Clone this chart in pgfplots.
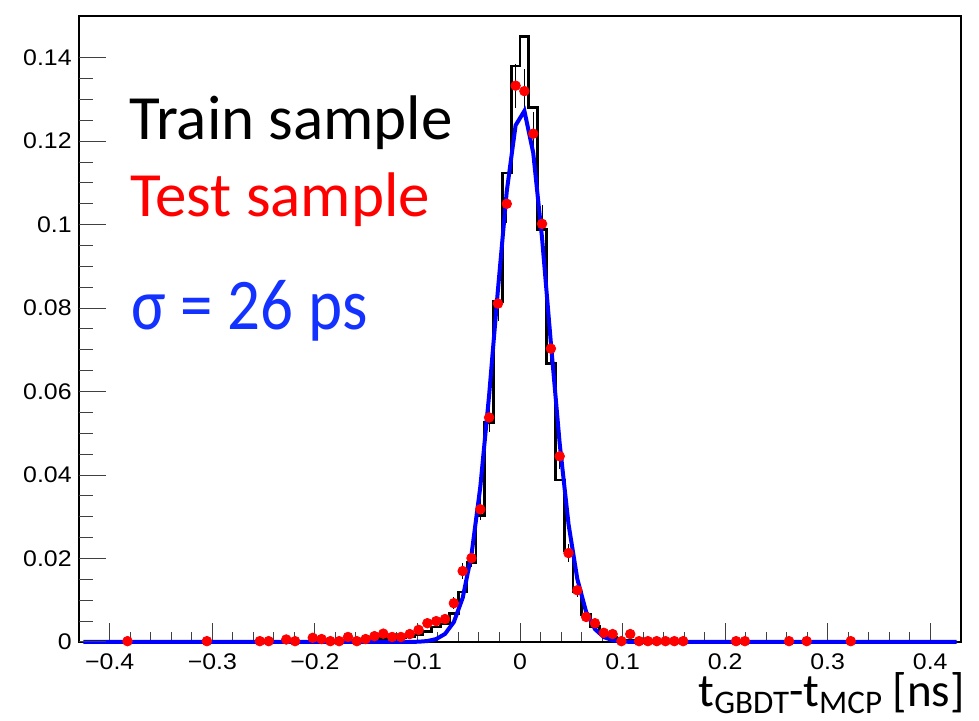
\documentclass[border=0pt]{standalone}
\usepackage{pgfplots}
\pgfplotsset{compat=1.18}
\usepackage{fontspec}
\usepackage{graphicx}
\setmainfont{Liberation Sans}
\newfontfamily\calfont{Carlito}
\definecolor{sigblue}{RGB}{20,50,255}
\newcommand\sx[1]{\scalebox{1.1}[1]{#1}}
\begin{document}
\begin{tikzpicture}
\begin{axis}[
  at={(0,0)}, anchor=south west,
  scale only axis, width=441pt, height=313pt,
  xmin=-0.43, xmax=0.43, ymin=0, ymax=0.15,
  clip=false,
  axis line style={black, line width=0.6pt},
  xtick={-0.4,-0.3,-0.2,-0.1,0,0.1,0.2,0.3,0.4},
  xticklabels={\sx{−0.4},\sx{−0.3},\sx{−0.2},\sx{−0.1},\sx{0},\sx{0.1},\sx{0.2},\sx{0.3},\sx{0.4}},
  minor x tick num=4,
  ytick=\empty,
  xtick pos=left,
  tick align=inside,
  major tick length=9.5pt, minor tick length=5pt,
  tick style={black!75, line width=0.5pt},
  xticklabel style={font=\fontsize{11.3}{13}\selectfont, inner sep=0pt, anchor=north, yshift=-5.5pt},
]
\addplot[const plot, black, line width=1.4pt] coordinates {
(-0.43,0) (-0.2064,0.0001) (-0.1978,0.0002) (-0.1892,0.0002) (-0.1806,0.0003) (-0.172,0.0003) (-0.1634,0.0004) (-0.1548,0.0005) (-0.1462,0.0006) (-0.1376,0.0008) (-0.129,0.0009) (-0.1204,0.001) (-0.1118,0.0013) (-0.1032,0.0018) (-0.0946,0.0026) (-0.086,0.0036) (-0.0774,0.0043) (-0.0688,0.0069) (-0.0602,0.012) (-0.0516,0.0191) (-0.043,0.0304) (-0.0344,0.0526) (-0.0258,0.0816) (-0.0172,0.1124) (-0.0086,0.138) (0,0.145) (0.0086,0.128) (0.0172,0.0988) (0.0258,0.0667) (0.0344,0.0388) (0.043,0.0218) (0.0516,0.012) (0.0602,0.0065) (0.0688,0.0037) (0.0774,0.0021) (0.086,0.001) (0.0946,0.0005) (0.1032,0.0003) (0.1118,0.0002) (0.1204,0.0001) (0.129,0) (0.43,0)
};
\addplot[only marks, mark=*, mark size=2.4pt, red,
  error bars/.cd, y dir=both, y explicit, error mark=none,
  error bar style={black, line width=0.4pt}] coordinates {
(-0.3827,0.0002) +- (0,0.0002)
(-0.3053,0.0002) +- (0,0.0002)
(-0.2537,0.0002) +- (0,0.0002)
(-0.2451,0.0002) +- (0,0.0002)
(-0.2279,0.0006) +- (0,0.00036)
(-0.2193,0.0002) +- (0,0.0002)
(-0.2021,0.001) +- (0,0.00046)
(-0.1935,0.0007) +- (0,0.00038)
(-0.1849,0.0002) +- (0,0.0002)
(-0.1763,0.0002) +- (0,0.0002)
(-0.1677,0.0012) +- (0,0.0005)
(-0.1591,0.0002) +- (0,0.0002)
(-0.1505,0.0007) +- (0,0.00038)
(-0.1419,0.0014) +- (0,0.00054)
(-0.1333,0.002) +- (0,0.00065)
(-0.1247,0.0012) +- (0,0.0005)
(-0.1161,0.0012) +- (0,0.0005)
(-0.1075,0.0019) +- (0,0.00063)
(-0.0989,0.0029) +- (0,0.0008)
(-0.0903,0.0045) +- (0,0.001)
(-0.0817,0.005) +- (0,0.001)
(-0.0731,0.0055) +- (0,0.0011)
(-0.0645,0.0093) +- (0,0.0014)
(-0.0559,0.017) +- (0,0.0019)
(-0.0473,0.0201) +- (0,0.0021)
(-0.0387,0.0318) +- (0,0.0026)
(-0.0301,0.0538) +- (0,0.0034)
(-0.0215,0.0811) +- (0,0.0041)
(-0.0129,0.105) +- (0,0.0047)
(-0.0043,0.1333) +- (0,0.0053)
(0.0043,0.132) +- (0,0.0053)
(0.0129,0.1218) +- (0,0.0051)
(0.0215,0.1002) +- (0,0.0046)
(0.0301,0.0703) +- (0,0.0039)
(0.0387,0.0445) +- (0,0.0031)
(0.0473,0.0213) +- (0,0.0021)
(0.0559,0.0124) +- (0,0.0016)
(0.0645,0.006) +- (0,0.0011)
(0.0731,0.0045) +- (0,0.001)
(0.0817,0.0022) +- (0,0.0007)
(0.0903,0.0019) +- (0,0.00063)
(0.0989,0.0002) +- (0,0.0002)
(0.1075,0.0019) +- (0,0.00063)
(0.1161,0.0002) +- (0,0.0002)
(0.1247,0.0002) +- (0,0.0002)
(0.1333,0.0002) +- (0,0.0002)
(0.1419,0.0002) +- (0,0.0002)
(0.1505,0.0002) +- (0,0.0002)
(0.1591,0.0002) +- (0,0.0002)
(0.2107,0.0002) +- (0,0.0002)
(0.2193,0.0002) +- (0,0.0002)
(0.2623,0.0002) +- (0,0.0002)
(0.2795,0.0002) +- (0,0.0002)
(0.3225,0.0002) +- (0,0.0002)
};
\addplot[blue, line width=2pt] coordinates {
(-0.4257,0) (-0.1161,0) (-0.1075,0.00003) (-0.0989,0.000067) (-0.0903,0.00023) (-0.0817,0.000705) (-0.0731,0.00194) (-0.0645,0.00478) (-0.0559,0.01056) (-0.0473,0.02093) (-0.0387,0.03717) (-0.0301,0.05917) (-0.0215,0.08443) (-0.0129,0.1080) (-0.0043,0.1238) (0.0043,0.12726) (0.0129,0.1172) (0.0215,0.0968) (0.0301,0.07166) (0.0387,0.04754) (0.0473,0.02827) (0.0559,0.01507) (0.0645,0.0072) (0.0731,0.00308) (0.0817,0.001185) (0.0903,0.000408) (0.0989,0.000126) (0.1075,0.00003) (0.1161,0) (0.4257,0)
};
\end{axis}
\begin{axis}[
  at={(0,0)}, anchor=south west,
  scale only axis, width=441pt, height=313pt,
  xmin=-0.43, xmax=0.43, ymin=0, ymax=0.15,
  axis line style={draw=none},
  xtick=\empty,
  ytick={0,0.02,0.04,0.06,0.08,0.1,0.12,0.14},
  yticklabels={\sx{0},\sx{0.02},\sx{0.04},\sx{0.06},\sx{0.08},\sx{0.1},\sx{0.12},\sx{0.14}},
  minor y tick num=3,
  ytick pos=left,
  tick align=inside,
  major tick length=13.5pt, minor tick length=7pt,
  tick style={black!75, line width=0.5pt},
  yticklabel style={font=\fontsize{11.3}{13}\selectfont, inner sep=0pt, anchor=east, xshift=-3.5pt},
]
\end{axis}
\node[anchor=base west, inner sep=0pt, font=\calfont\fontsize{31.5}{37}\selectfont] at (25pt,251pt) {Train sample};
\node[anchor=base west, inner sep=0pt, text=red, font=\calfont\fontsize{31.5}{37}\selectfont] at (25.5pt,212.5pt) {Test sample};
\node[anchor=base west, inner sep=0pt, text=sigblue, font=\calfont\fontsize{32.5}{38}\selectfont] at (26pt,156pt) {\scalebox{1}[1.12]{σ = 26 ps}};
\node[anchor=base east, inner sep=0pt, font=\calfont\fontsize{23.5}{27}\selectfont] at (443pt,-32.5pt) {t\raisebox{-0.3ex}{\fontsize{16.5}{19}\selectfont GBDT}-t\raisebox{-0.3ex}{\fontsize{16.5}{19}\selectfont MCP} [ns]};
\pgfresetboundingbox
\useasboundingbox (-39.5pt,-39.5pt) rectangle (450pt,321pt);
\end{tikzpicture}
\end{document}
